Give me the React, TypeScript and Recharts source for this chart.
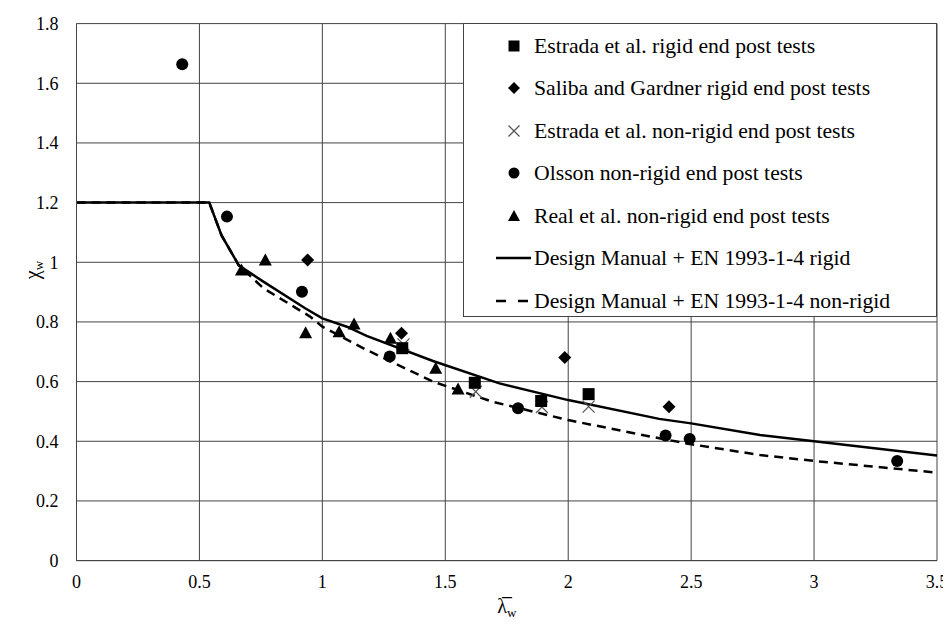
import React from "react";
import {
  ComposedChart,
  Line,
  Scatter,
  XAxis,
  YAxis,
  CartesianGrid,
} from "recharts";

const FONT = "'Liberation Serif', 'Times New Roman', Tinos, serif";

// test results
const estradaRigid = [
  { x: 1.325, y: 0.712 },
  { x: 1.62, y: 0.596 },
  { x: 1.89, y: 0.535 },
  { x: 2.083, y: 0.558 },
];
const salibaRigid = [
  { x: 0.94, y: 1.008 },
  { x: 1.322, y: 0.762 },
  { x: 1.986, y: 0.681 },
  { x: 2.41, y: 0.516 },
];
const estradaNonRigid = [
  { x: 1.33, y: 0.725 },
  { x: 1.624, y: 0.566 },
  { x: 1.893, y: 0.515 },
  { x: 2.083, y: 0.516 },
];
const olssonNonRigid = [
  { x: 0.43, y: 1.664 },
  { x: 0.612, y: 1.153 },
  { x: 0.917, y: 0.901 },
  { x: 1.274, y: 0.684 },
  { x: 1.796, y: 0.511 },
  { x: 2.396, y: 0.419 },
  { x: 2.494, y: 0.408 },
  { x: 3.338, y: 0.334 },
];
const realNonRigid = [
  { x: 0.671, y: 0.974 },
  { x: 0.768, y: 1.008 },
  { x: 0.932, y: 0.764 },
  { x: 1.068, y: 0.767 },
  { x: 1.129, y: 0.793 },
  { x: 1.277, y: 0.745 },
  { x: 1.461, y: 0.645 },
  { x: 1.552, y: 0.575 },
];

// design curves
const designRigid = [
  { x: 0, y: 1.2 },
  { x: 0.54, y: 1.2 },
  { x: 0.59, y: 1.09 },
  { x: 0.66, y: 0.99 },
  { x: 0.76, y: 0.935 },
  { x: 0.93, y: 0.846 },
  { x: 1.0, y: 0.812 },
  { x: 1.1, y: 0.784 },
  { x: 1.18, y: 0.753 },
  { x: 1.45, y: 0.669 },
  { x: 1.72, y: 0.594 },
  { x: 2.0, y: 0.538 },
  { x: 2.37, y: 0.475 },
  { x: 2.5, y: 0.46 },
  { x: 2.78, y: 0.421 },
  { x: 3.0, y: 0.4 },
  { x: 3.5, y: 0.352 },
];
const designNonRigid = [
  { x: 0, y: 1.2 },
  { x: 0.54, y: 1.2 },
  { x: 0.59, y: 1.09 },
  { x: 0.66, y: 0.99 },
  { x: 0.76, y: 0.913 },
  { x: 0.95, y: 0.818 },
  { x: 1.0, y: 0.784 },
  { x: 1.18, y: 0.706 },
  { x: 1.45, y: 0.6 },
  { x: 1.69, y: 0.533 },
  { x: 2.0, y: 0.471 },
  { x: 2.37, y: 0.41 },
  { x: 2.5, y: 0.39 },
  { x: 2.78, y: 0.354 },
  { x: 3.0, y: 0.334 },
  { x: 3.5, y: 0.295 },
];

const xTicks = [0, 0.5, 1, 1.5, 2, 2.5, 3, 3.5];
const yTicks = [0, 0.2, 0.4, 0.6, 0.8, 1, 1.2, 1.4, 1.6, 1.8];

const legendItems = [
  { key: "sq", label: "Estrada et al. rigid end post tests" },
  { key: "di", label: "Saliba and Gardner rigid end post tests" },
  { key: "x", label: "Estrada et al. non-rigid end post tests" },
  { key: "ci", label: "Olsson non-rigid end post tests" },
  { key: "tr", label: "Real et al. non-rigid end post tests" },
  { key: "solid", label: "Design Manual + EN 1993-1-4 rigid" },
  { key: "dash", label: "Design Manual + EN 1993-1-4 non-rigid" },
];

function marker(kind: string, cx: number, cy: number, s = 6) {
  switch (kind) {
    case "sq":
      return <rect x={cx - s} y={cy - s} width={2 * s} height={2 * s} fill="#000" />;
    case "di":
      return (
        <polygon
          points={`${cx},${cy - s - 0.5} ${cx + s + 0.5},${cy} ${cx},${cy + s + 0.5} ${cx - s - 0.5},${cy}`}
          fill="#000"
        />
      );
    case "x":
      return (
        <g stroke="#555" strokeWidth={1.2}>
          <line x1={cx - s} y1={cy - s} x2={cx + s} y2={cy + s} />
          <line x1={cx - s} y1={cy + s} x2={cx + s} y2={cy - s} />
        </g>
      );
    case "ci":
      return <circle cx={cx} cy={cy} r={s} fill="#000" />;
    case "tr":
      return (
        <polygon
          points={`${cx},${cy - s - 0.5} ${cx + s + 0.5},${cy + s - 0.5} ${cx - s - 0.5},${cy + s - 0.5}`}
          fill="#000"
        />
      );
    default:
      return null;
  }
}

const shapeOf = (kind: string) => (p: any) => marker(kind, p.cx, p.cy);

const fmt = (v: number) => String(Number(v.toFixed(1)));

function XTitle(props: any) {
  const { x, y, width } = props.viewBox;
  const cx = x + width / 2;
  return (
    <text x={cx} y={y + 52} textAnchor="middle" fontFamily={FONT} fontSize={20} fill="#000">
      {"λ\u0305"}
      <tspan fontSize={13} dy={4}>w</tspan>
    </text>
  );
}

function YTitle(props: any) {
  const { x } = props.viewBox;
  const px = x + 22;
  const py = 262;
  return (
    <text
      x={px}
      y={py}
      transform={`rotate(-90, ${px}, ${py})`}
      textAnchor="middle"
      fontFamily={FONT}
      fontSize={20}
      fill="#000"
    >
      χ<tspan fontSize={13} dy={4}>w</tspan>
    </text>
  );
}

function LegendBox() {
  return (
    <div
      style={{
        position: "absolute",
        left: 455,
        top: 15,
        width: 474,
        height: 294,
        background: "#fff",
        border: "1px solid #444",
        boxSizing: "border-box",
        fontFamily: FONT,
        fontSize: 21.7,
        color: "#000",
      }}
    >
      {legendItems.map((it, i) => {
        const cy = 21.5 + i * 42.5;
        return (
          <div key={it.key}>
            <svg
              width={80}
              height={24}
              style={{ position: "absolute", left: 0, top: cy - 12 }}
            >
              {it.key === "solid" ? (
                <line x1={32} y1={12} x2={67} y2={12} stroke="#000" strokeWidth={2.5} />
              ) : it.key === "dash" ? (
                <line
                  x1={32}
                  y1={12}
                  x2={66}
                  y2={12}
                  stroke="#000"
                  strokeWidth={2.5}
                  strokeDasharray="10 12"
                />
              ) : (
                marker(it.key, 50, 12, 5.5)
              )}
            </svg>
            <div
              style={{
                position: "absolute",
                left: 70,
                top: cy - 13,
                lineHeight: "26px",
                whiteSpace: "nowrap",
              }}
            >
              {it.label}
            </div>
          </div>
        );
      })}
    </div>
  );
}

export default function App() {
  return (
    <div style={{ position: "relative", width: 943, height: 617 }}>
      <ComposedChart
        width={943}
        height={617}
        margin={{ top: 15.6, right: 14, left: 8.5, bottom: 24.4 }}
      >
        <CartesianGrid stroke="#444" strokeWidth={1} />
        <XAxis
          type="number"
          dataKey="x"
          domain={[0, 3.5]}
          ticks={xTicks}
          tickFormatter={fmt}
          height={40}
          tickLine={false}
          tickSize={0}
          tickMargin={15}
          axisLine={{ stroke: "#444" }}
          tick={{ fontFamily: FONT, fontSize: 18, fill: "#000" }}
          label={<XTitle />}
          allowDataOverflow
        />
        <YAxis
          type="number"
          dataKey="y"
          domain={[0, 1.8]}
          ticks={yTicks}
          tickFormatter={fmt}
          width={60}
          tickLine={false}
          tickSize={0}
          tickMargin={18}
          axisLine={{ stroke: "#444" }}
          tick={{ fontFamily: FONT, fontSize: 18, fill: "#000" }}
          label={<YTitle />}
          allowDataOverflow
        />
        <Line
          data={designRigid}
          dataKey="y"
          type="linear"
          stroke="#000"
          strokeWidth={2.5}
          dot={false}
          activeDot={false}
          isAnimationActive={false}
        />
        <Line
          data={designNonRigid}
          dataKey="y"
          type="linear"
          stroke="#000"
          strokeWidth={2.5}
          strokeDasharray="9 6"
          dot={false}
          activeDot={false}
          isAnimationActive={false}
        />
        <Scatter data={estradaNonRigid} dataKey="y" shape={shapeOf("x")} isAnimationActive={false} />
        <Scatter data={olssonNonRigid} dataKey="y" shape={shapeOf("ci")} isAnimationActive={false} />
        <Scatter data={realNonRigid} dataKey="y" shape={shapeOf("tr")} isAnimationActive={false} />
        <Scatter data={estradaRigid} dataKey="y" shape={shapeOf("sq")} isAnimationActive={false} />
        <Scatter data={salibaRigid} dataKey="y" shape={shapeOf("di")} isAnimationActive={false} />
      </ComposedChart>
      <LegendBox />
    </div>
  );
}
